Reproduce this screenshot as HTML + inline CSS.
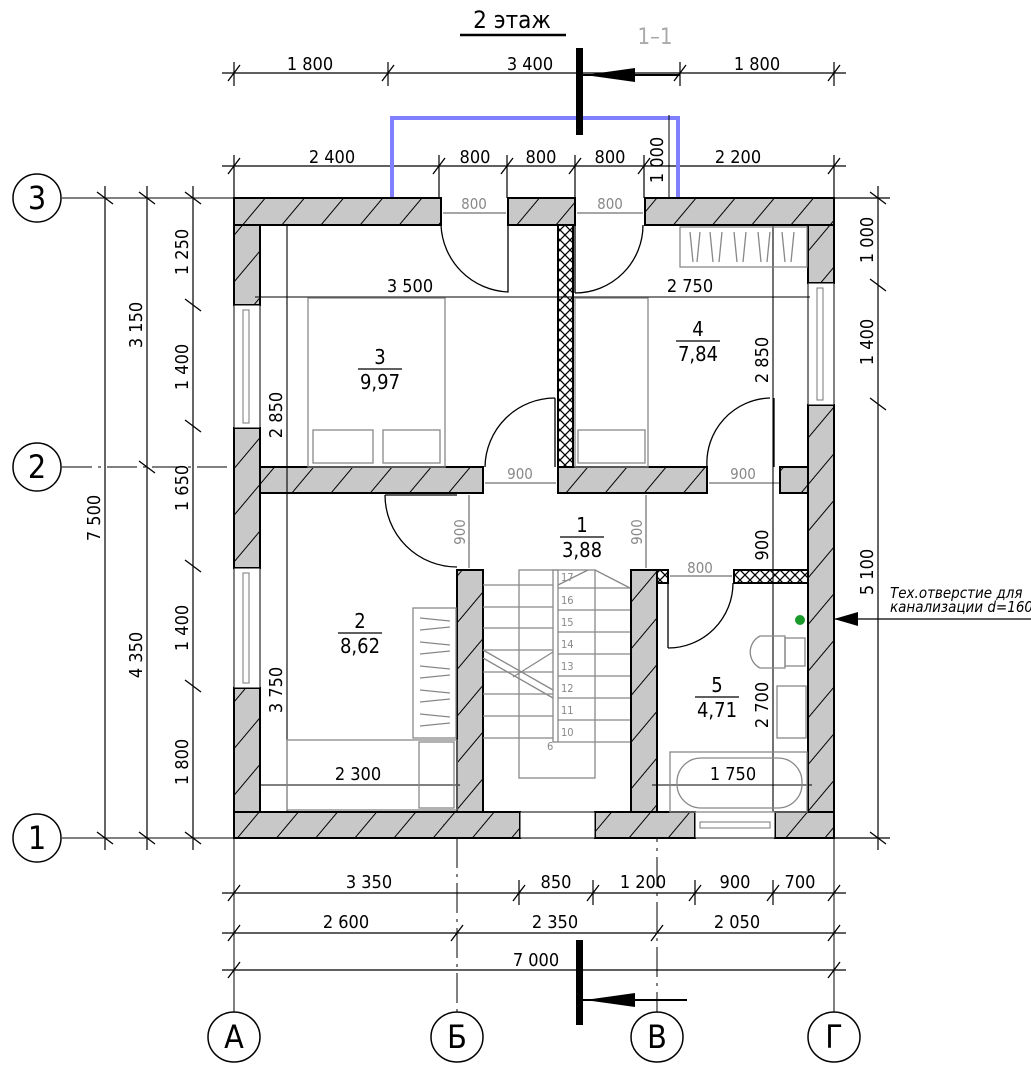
<!DOCTYPE html>
<html><head><meta charset="utf-8"><style>
html,body{margin:0;padding:0;background:#fff;}
svg{display:block;}
text{font-family:"DejaVu Sans Condensed","DejaVu Sans","Liberation Sans",sans-serif;}
</style></head><body>
<svg width="1031" height="1080" viewBox="0 0 1031 1080" xmlns="http://www.w3.org/2000/svg">
<defs>
<pattern id="h" patternUnits="userSpaceOnUse" width="30" height="30" patternTransform="rotate(-50)">
<rect width="30" height="30" fill="#c8c8c8"/><line x1="0" y1="0" x2="30" y2="0" stroke="#000" stroke-width="2"/>
</pattern>
<pattern id="x" patternUnits="userSpaceOnUse" width="10" height="10">
<rect width="10" height="10" fill="#fff"/><path d="M0,0L10,10M10,0L0,10" stroke="#000" stroke-width="1.3"/>
</pattern>
</defs>

<text x="512" y="28" font-size="24" text-anchor="middle">2 этаж</text>
<line x1="460" y1="35" x2="566" y2="35" stroke="#000" stroke-width="2.5"/>
<text x="655" y="44" font-size="22" fill="#aaa" text-anchor="middle">1–1</text>

<g stroke="#000" stroke-width="1">
<line x1="62" y1="198" x2="234" y2="198"/>
<line x1="62" y1="467" x2="234" y2="467" stroke-dasharray="30,6,3,6"/>
<line x1="62" y1="838" x2="234" y2="838"/>
<line x1="234" y1="838" x2="234" y2="1013"/>
<line x1="457" y1="838" x2="457" y2="1013" stroke-dasharray="30,6,3,6"/>
<line x1="657" y1="812" x2="657" y2="1013" stroke-dasharray="30,6,3,6"/>
<line x1="834" y1="838" x2="834" y2="1013"/>
</g>
<g fill="#fff" stroke="#000" stroke-width="1.5">
<circle cx="37" cy="198" r="24"/><circle cx="37" cy="467" r="24"/><circle cx="37" cy="838" r="24"/>
<ellipse cx="234" cy="1037" rx="26" ry="25"/><ellipse cx="457" cy="1037" rx="26" ry="25"/>
<ellipse cx="657" cy="1037" rx="26" ry="25"/><ellipse cx="834" cy="1037" rx="26" ry="25"/>
</g>
<g font-size="32" text-anchor="middle">
<text x="37" y="209">3</text><text x="37" y="478">2</text><text x="37" y="849">1</text>
<text x="234" y="1048">А</text><text x="457" y="1048">Б</text><text x="657" y="1048">В</text><text x="834" y="1048">Г</text>
</g>

<g stroke="#000" stroke-width="1.2" fill="none">
<line x1="222" y1="73" x2="846" y2="73"/>
<line x1="222" y1="166" x2="846" y2="166"/>
<line x1="222" y1="893" x2="846" y2="893"/>
<line x1="222" y1="933" x2="846" y2="933"/>
<line x1="222" y1="970" x2="846" y2="970"/>
<line x1="105" y1="186" x2="105" y2="850"/>
<line x1="147" y1="186" x2="147" y2="850"/>
<line x1="193" y1="186" x2="193" y2="850"/>
<line x1="878" y1="186" x2="878" y2="850"/>
<line x1="234" y1="62" x2="234" y2="86"/><line x1="388" y1="62" x2="388" y2="86"/>
<line x1="680" y1="62" x2="680" y2="86"/><line x1="834" y1="62" x2="834" y2="86"/>
<line x1="234" y1="155" x2="234" y2="198"/><line x1="439" y1="155" x2="439" y2="198"/>
<line x1="507" y1="155" x2="507" y2="198"/><line x1="575" y1="155" x2="575" y2="198"/>
<line x1="644" y1="155" x2="644" y2="198"/><line x1="834" y1="155" x2="834" y2="198"/>
<line x1="519" y1="880" x2="519" y2="905"/><line x1="593" y1="880" x2="593" y2="905"/>
<line x1="695" y1="880" x2="695" y2="905"/><line x1="773" y1="880" x2="773" y2="905"/>
<line x1="834" y1="198" x2="890" y2="198"/><line x1="834" y1="838" x2="890" y2="838"/>
</g>
<g stroke="#000" stroke-width="1.3">
<path d="M228,81l12,-16M382,81l12,-16M674,81l12,-16M828,81l12,-16"/>
<path d="M228,174l12,-16M433,174l12,-16M501,174l12,-16M569,174l12,-16M638,174l12,-16M828,174l12,-16"/>
<path d="M228,901l12,-16M513,901l12,-16M587,901l12,-16M689,901l12,-16M767,901l12,-16M828,901l12,-16"/>
<path d="M228,941l12,-16M451,941l12,-16M651,941l12,-16M828,941l12,-16"/>
<path d="M228,978l12,-16M828,978l12,-16"/>
<path d="M97,192l16,12M97,832l16,12"/>
<path d="M139,192l16,12M139,461l16,12M139,832l16,12"/>
<path d="M185,192l16,12M185,299l16,12M185,420l16,12M185,560l16,12M185,680l16,12M185,832l16,12"/>
<path d="M870,192l16,12M870,279l16,12M870,398l16,12M870,832l16,12"/>
</g>
<g font-size="18" text-anchor="middle">
<text x="310" y="70">1 800</text><text x="530" y="70">3 400</text><text x="757" y="70">1 800</text>
<text x="332" y="163">2 400</text><text x="475" y="163">800</text><text x="541" y="163">800</text>
<text x="610" y="163">800</text><text x="738" y="163">2 200</text>
<text x="369" y="888">3 350</text><text x="556" y="888">850</text><text x="643" y="888">1 200</text>
<text x="735" y="888">900</text><text x="800" y="888">700</text>
<text x="346" y="928">2 600</text><text x="555" y="928">2 350</text><text x="737" y="928">2 050</text>
<text x="536" y="966">7 000</text>
<text transform="translate(100,518) rotate(-90)">7 500</text>
<text transform="translate(142,325) rotate(-90)">3 150</text>
<text transform="translate(142,655) rotate(-90)">4 350</text>
<text transform="translate(188,252) rotate(-90)">1 250</text>
<text transform="translate(188,367) rotate(-90)">1 400</text>
<text transform="translate(188,488) rotate(-90)">1 650</text>
<text transform="translate(188,628) rotate(-90)">1 400</text>
<text transform="translate(188,762) rotate(-90)">1 800</text>
<text transform="translate(873,240) rotate(-90)">1 000</text>
<text transform="translate(873,342) rotate(-90)">1 400</text>
<text transform="translate(873,572) rotate(-90)">5 100</text>
</g>

<polyline points="392,198 392,118 678,118 678,198" fill="none" stroke="#8080ff" stroke-width="4"/>
<text transform="translate(663,160) rotate(-90)" font-size="18" text-anchor="middle">1 000</text>
<line x1="669" y1="115" x2="669" y2="198" stroke="#000" stroke-width="1"/>

<g fill="#000" stroke="#000">
<rect x="576" y="48" width="7" height="87" stroke="none"/>
<line x1="583" y1="75" x2="680" y2="75" stroke-width="2"/>
<polygon points="585,75 635,68 635,82" stroke="none"/>
<rect x="576" y="940" width="7" height="85" stroke="none"/>
<line x1="583" y1="1000" x2="687" y2="1000" stroke-width="2"/>
<polygon points="585,1000 635,993 635,1007" stroke="none"/>
</g>

<g fill="url(#h)" stroke="#000" stroke-width="2">
<rect x="234" y="198" width="207" height="27"/>
<rect x="508" y="198" width="67" height="27"/>
<rect x="645" y="198" width="189" height="27"/>
<rect x="234" y="225" width="26" height="80"/>
<rect x="234" y="428" width="26" height="140"/>
<rect x="234" y="688" width="26" height="150"/>
<rect x="808" y="225" width="26" height="58"/>
<rect x="808" y="405" width="26" height="433"/>
<rect x="234" y="812" width="286" height="26"/>
<rect x="595" y="812" width="100" height="26"/>
<rect x="775" y="812" width="59" height="26"/>
<rect x="260" y="467" width="223" height="26"/>
<rect x="558" y="467" width="149" height="26"/>
<rect x="780" y="467" width="28" height="26"/>
<rect x="457" y="570" width="26" height="242"/>
<rect x="631" y="570" width="26" height="242"/>
</g>
<g fill="url(#x)" stroke="#000" stroke-width="2">
<rect x="558" y="225" width="15" height="242"/>
<rect x="734" y="570" width="74" height="13"/>
<rect x="657" y="570" width="11" height="13"/>
</g>
<g fill="#fff" stroke="#000" stroke-width="1">
<rect x="234" y="305" width="26" height="123"/>
<rect x="234" y="568" width="26" height="120"/>
<rect x="808" y="283" width="26" height="122"/>
<rect x="520" y="812" width="75" height="26"/>
<rect x="695" y="812" width="80" height="26"/>
</g>
<g stroke="#777" stroke-width="1" fill="none">
<rect x="243" y="310" width="6" height="113"/><rect x="243" y="573" width="6" height="110"/>
<rect x="817" y="288" width="6" height="112"/>
<rect x="700" y="822" width="70" height="6"/>
</g>

<g fill="none" stroke="#000" stroke-width="1.3">
<path d="M441,225 A70,70 0 0 0 508,292 L508,225"/>
<path d="M643,225 A68,68 0 0 1 575,293"/>
<line x1="575" y1="225" x2="575" y2="293"/>
<path d="M555,398 A70,70 0 0 0 485,467"/><line x1="555" y1="398" x2="555" y2="467"/>
<path d="M770,398 A65,65 0 0 0 707,467"/><line x1="774" y1="398" x2="774" y2="467"/>
<path d="M385,495 A72,72 0 0 0 457,567"/><line x1="385" y1="495" x2="457" y2="495"/>
<path d="M733,583 A65,65 0 0 1 668,648"/><line x1="668" y1="583" x2="668" y2="648"/>
</g>
<g stroke="#888" stroke-width="1.5" fill="#888" font-size="15" text-anchor="middle">
<line x1="443" y1="213" x2="506" y2="213"/><line x1="577" y1="213" x2="643" y2="213"/>
<line x1="485" y1="483" x2="556" y2="483"/><line x1="709" y1="483" x2="779" y2="483"/>
<line x1="670" y1="576" x2="732" y2="576"/>
<line x1="469" y1="495" x2="469" y2="568"/><line x1="646" y1="495" x2="646" y2="568"/>
<text x="474" y="209" stroke="none">800</text><text x="610" y="209" stroke="none">800</text>
<text x="520" y="479" stroke="none">900</text><text x="743" y="479" stroke="none">900</text>
<text x="700" y="573" stroke="none">800</text>
<text transform="translate(465,532) rotate(-90)" stroke="none">900</text>
<text transform="translate(642,532) rotate(-90)" stroke="none">900</text>
</g>

<g stroke="#000" stroke-width="1.1">
<line x1="255" y1="297" x2="810" y2="297"/>
<line x1="287" y1="225" x2="287" y2="812"/>
<line x1="773" y1="225" x2="773" y2="812"/>
<line x1="260" y1="785" x2="460" y2="785"/>
<line x1="652" y1="785" x2="812" y2="785"/>
</g>
<g font-size="18" text-anchor="middle">
<text x="410" y="292">3 500</text><text x="690" y="292">2 750</text>
<text transform="translate(282,415) rotate(-90)">2 850</text>
<text transform="translate(282,690) rotate(-90)">3 750</text>
<text transform="translate(768,360) rotate(-90)">2 850</text>
<text transform="translate(768,545) rotate(-90)">900</text>
<text transform="translate(768,705) rotate(-90)">2 700</text>
<text x="358" y="780">2 300</text><text x="733" y="780">1 750</text>
</g>

<g fill="none" stroke="#888" stroke-width="1.3">
<rect x="308" y="298" width="137" height="169"/>
<rect x="313" y="430" width="60" height="33"/><rect x="383" y="430" width="57" height="33"/>
<rect x="575" y="298" width="73" height="169"/><rect x="578" y="430" width="67" height="33"/>
<rect x="680" y="227" width="127" height="40"/>
<path d="M690,232l3,30M700,232l-3,30M710,232l3,30M722,232l-3,30M734,232l3,30M746,232l-3,30M758,232l3,30M770,232l-3,30M782,232l3,30M794,232l-3,30"/>
<rect x="413" y="608" width="43" height="130"/>
<path d="M420,618l30,3M420,630l30,-3M420,642l30,3M420,654l30,-3M420,666l30,3M420,678l30,-3M420,690l30,3M420,702l30,-3M420,714l30,3M420,726l30,-3"/>
<rect x="287" y="740" width="170" height="70"/><rect x="419" y="742" width="35" height="66"/>
<rect x="670" y="752" width="137" height="60"/><rect x="677" y="758" width="125" height="50" rx="24"/>
<path d="M785,636h-25a18,18 0 0 0 0,32h25z"/><rect x="785" y="638" width="20" height="28"/>
<rect x="777" y="686" width="29" height="52"/>
<rect x="519" y="570" width="76" height="208"/>
<path d="M483,585h70M483,607h70M483,628h70M483,650h70M483,672h70M483,694h70M483,716h70M483,738h70"/>
<path d="M558,588h72M558,610h72M558,632h72M558,654h72M558,676h72M558,698h72M558,720h72M558,742h72"/>
<rect x="553" y="570" width="5" height="172"/>
<path d="M483,650l70,40M483,658l70,40M553,652l-40,25M558,585l30,-15M595,570l35,18"/>
</g>
<g font-size="11" fill="#888">
<text x="561" y="581">17</text><text x="561" y="604">16</text><text x="561" y="626">15</text><text x="561" y="648">14</text>
<text x="561" y="670">13</text><text x="561" y="692">12</text><text x="561" y="714">11</text><text x="561" y="736">10</text>
<text x="547" y="750">6</text>
</g>
<circle cx="800" cy="620" r="5" fill="#1a9a2a"/>

<g stroke="#000">
<line x1="358" y1="369" x2="402" y2="369" stroke-width="1.3"/>
<line x1="676" y1="341" x2="720" y2="341" stroke-width="1.3"/>
<line x1="338" y1="633" x2="382" y2="633" stroke-width="1.3"/>
<line x1="560" y1="537" x2="604" y2="537" stroke-width="1.3"/>
<line x1="695" y1="697" x2="739" y2="697" stroke-width="1.3"/>
</g>
<g font-size="20" text-anchor="middle">
<text x="380" y="364">3</text><text x="380" y="389">9,97</text>
<text x="698" y="336">4</text><text x="698" y="361">7,84</text>
<text x="360" y="628">2</text><text x="360" y="653">8,62</text>
<text x="582" y="532">1</text><text x="582" y="557">3,88</text>
<text x="717" y="692">5</text><text x="717" y="717">4,71</text>
</g>

<line x1="834" y1="619" x2="1031" y2="619" stroke="#000" stroke-width="1.3"/>
<polygon points="834,619 858,612 858,626" fill="#000"/>
<text x="890" y="598" font-size="15" font-style="italic">Тех.отверстие для</text>
<text x="890" y="612" font-size="15" font-style="italic">канализации d=160</text>
</svg>
</body></html>
